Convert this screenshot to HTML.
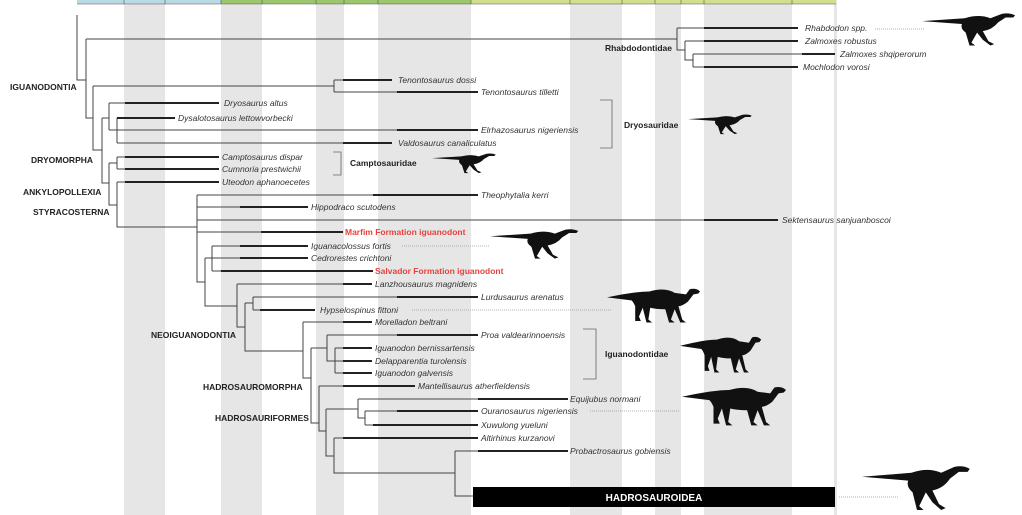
<!DOCTYPE html>
<html><head><meta charset="utf-8"><style>
html,body{margin:0;padding:0;background:#fff;}
svg{display:block;}
.sp{font-family:"Liberation Sans",sans-serif;font-style:italic;font-size:8.5px;fill:#333;}
.cl{font-family:"Liberation Sans",sans-serif;font-weight:bold;font-size:8.5px;fill:#222;}
.rd{font-family:"Liberation Sans",sans-serif;font-weight:bold;font-size:8.5px;fill:#e8413c;}
</style></head><body>
<svg width="1022" height="515" viewBox="0 0 1022 515" xmlns="http://www.w3.org/2000/svg">
<defs>
<path id="dino" d="M0,14 L45,10 Q60,4 72,10 L84,4 Q92,2 98,6 L96,9 L88,9 L80,16 Q74,26 64,28 L70,42 L76,46 L72,48 L64,40 L58,30 L52,44 L56,48 L50,48 L46,30 Q40,24 42,18 Z" fill="#111"/>
<path id="quad" d="M0,14 Q30,6 45,6 Q62,0 72,8 L84,10 L88,3 Q95,1 99,6 L97,9 L92,10 L86,20 Q80,26 76,26 L80,44 L84,48 L78,48 L72,30 L68,44 L72,48 L66,48 L62,30 Q52,30 46,28 L44,44 L48,48 L42,48 L38,28 L34,40 L36,46 L30,46 L30,26 Q28,20 26,18 Z" fill="#111"/>
</defs>
<!-- gray bands -->
<g fill="#e6e6e6">
<rect x="124" y="0" width="41" height="515"/>
<rect x="221" y="0" width="41" height="515"/>
<rect x="316" y="0" width="28" height="515"/>
<rect x="378" y="0" width="93" height="515"/>
<rect x="570" y="0" width="52" height="515"/>
<rect x="655" y="0" width="26" height="515"/>
<rect x="704" y="0" width="88" height="515"/>
<rect x="834" y="0" width="3" height="515"/>
</g>
<!-- top strip -->
<rect x="77" y="0" width="144" height="4" fill="#b9d9e3"/>
<rect x="221" y="0" width="250" height="4" fill="#9cc56c"/>
<rect x="471" y="0" width="365" height="4" fill="#d3df8c"/>
<g stroke="#555" stroke-width="0.6">
<line x1="77" y1="4" x2="836" y2="4"/>
<line x1="124" y1="0" x2="124" y2="4"/><line x1="165" y1="0" x2="165" y2="4"/><line x1="221" y1="0" x2="221" y2="4"/><line x1="262" y1="0" x2="262" y2="4"/><line x1="316" y1="0" x2="316" y2="4"/><line x1="344" y1="0" x2="344" y2="4"/><line x1="378" y1="0" x2="378" y2="4"/><line x1="471" y1="0" x2="471" y2="4"/><line x1="570" y1="0" x2="570" y2="4"/><line x1="622" y1="0" x2="622" y2="4"/><line x1="655" y1="0" x2="655" y2="4"/><line x1="681" y1="0" x2="681" y2="4"/><line x1="704" y1="0" x2="704" y2="4"/><line x1="792" y1="0" x2="792" y2="4"/>
</g>
<!-- tree thin lines -->
<g stroke="#444" stroke-width="1" fill="none">
<path d="M77,15 V80 H86 M86,39 V118 H93 M86,39 H677 M677,28 V50 H685 M677,28 H798 M685,41 V60 H693 M685,41 H798 M693,54 V67 M693,54 H835 M693,67 H798"/>
<path d="M93,86 V150 H102 M93,86 H334 M334,80 V92 M334,80 H392 M334,92 H478"/>
<path d="M102,118 V183 H109 M102,118 H109 M109,103 V130 M109,103 H219 M109,130 H478 M117,118 V143 M117,118 H175 M117,143 H392"/>
<path d="M109,163 V205 H117 M109,163 H117 M117,157 V169 M117,157 H219 M117,169 H219 M117,182 V227 H197 M117,182 H219"/>
<path d="M197,195 V282 H205 M197,195 H478 M197,207 H308 M197,220 H778 M197,232 H343"/>
<path d="M205,258 V306 H237 M205,258 H308 M212,246 V271 M212,246 H308 M212,271 H373"/>
<path d="M237,284 V327 H245 M237,284 H372 M245,303 V351 H303 M245,303 H253 M253,297 V310 M253,297 H478 M253,310 H315"/>
<path d="M303,322 V378 H311 M303,322 H372 M311,348 V423 H319 M311,348 H327 M327,335 V361 H335 M327,335 H478 M335,348 V373 M335,348 H372 M335,361 H372 M335,373 H372"/>
<path d="M319,386 V431 H326 M319,386 H415 M326,409 V456 H334 M326,409 H358 M358,399 V418 H365 M358,399 H568 M365,411 V425 M365,411 H478 M365,425 H478"/>
<path d="M334,438 V473 H455 M334,438 H478 M455,451 V496 H473 M455,451 H568"/>
</g>
<!-- thick segments -->
<g stroke="#222" stroke-width="2" fill="none">
<path d="M704,28 H798 M704,41 H798 M802,54 H835 M704,67 H798"/>
<path d="M343,80 H392 M397,92 H478 M125,103 H219 M117,118 H175 M397,130 H478 M343,143 H392"/>
<path d="M125,157 H219 M125,169 H219 M125,182 H219"/>
<path d="M373,195 H478 M240,207 H308 M704,220 H778 M261,232 H343"/>
<path d="M240,246 H308 M240,258 H308 M221,271 H373 M343,284 H372 M397,297 H478 M260,310 H315"/>
<path d="M343,322 H372 M397,335 H478 M343,348 H372 M343,361 H372 M343,373 H372 M343,386 H415"/>
<path d="M478,399 H568 M397,411 H478 M373,425 H478 M343,438 H478 M478,451 H568"/>
</g>
<!-- dotted -->
<g stroke="#999" stroke-width="0.8" stroke-dasharray="1,1">
<line x1="875" y1="29" x2="925" y2="29"/>
<line x1="402" y1="246" x2="490" y2="246"/>
<line x1="412" y1="310" x2="612" y2="310"/>
<line x1="590" y1="411" x2="680" y2="411"/>
<line x1="839" y1="497" x2="898" y2="497"/>
</g>
<!-- brackets -->
<g stroke="#666" stroke-width="0.8" fill="none">
<path d="M600,100 H612 V148 H600"/>
<path d="M333,152 H341 V175 H333"/>
<path d="M583,329 H596 V379 H583"/>
</g>
<!-- hadrosauroidea bar -->
<rect x="473" y="487" width="362" height="20" fill="#000"/>
<text x="654" y="501" text-anchor="middle" style="font-family:'Liberation Sans',sans-serif;font-weight:bold;font-size:10px;fill:#fff">HADROSAUROIDEA</text>
<!-- species labels -->
<g class="sp">
<text x="805" y="31">Rhabdodon spp.</text>
<text x="805" y="44">Zalmoxes robustus</text>
<text x="840" y="57">Zalmoxes shqiperorum</text>
<text x="803" y="70">Mochlodon vorosi</text>
<text x="398" y="83">Tenontosaurus dossi</text>
<text x="481" y="95">Tenontosaurus tilletti</text>
<text x="224" y="106">Dryosaurus altus</text>
<text x="178" y="121">Dysalotosaurus lettowvorbecki</text>
<text x="481" y="133">Elrhazosaurus nigeriensis</text>
<text x="398" y="146">Valdosaurus canaliculatus</text>
<text x="222" y="160">Camptosaurus dispar</text>
<text x="222" y="172">Cumnoria prestwichii</text>
<text x="222" y="185">Uteodon aphanoecetes</text>
<text x="481" y="198">Theophytalia kerri</text>
<text x="311" y="210">Hippodraco scutodens</text>
<text x="782" y="223">Sektensaurus sanjuanboscoi</text>
<text x="311" y="249">Iguanacolossus fortis</text>
<text x="311" y="261">Cedrorestes crichtoni</text>
<text x="375" y="287">Lanzhousaurus magnidens</text>
<text x="481" y="300">Lurdusaurus arenatus</text>
<text x="320" y="313">Hypselospinus fittoni</text>
<text x="375" y="325">Morelladon beltrani</text>
<text x="481" y="338">Proa valdearinnoensis</text>
<text x="375" y="351">Iguanodon bernissartensis</text>
<text x="375" y="364">Delapparentia turolensis</text>
<text x="375" y="376">Iguanodon galvensis</text>
<text x="418" y="389">Mantellisaurus atherfieldensis</text>
<text x="570" y="402">Equijubus normani</text>
<text x="481" y="414">Ouranosaurus nigeriensis</text>
<text x="481" y="428">Xuwulong yueluni</text>
<text x="481" y="441">Altirhinus kurzanovi</text>
<text x="570" y="454">Probactrosaurus gobiensis</text>
</g>
<text class="rd" x="345" y="235">Marfim Formation iguanodont</text>
<text class="rd" x="375" y="274">Salvador Formation iguanodont</text>
<!-- clade labels -->
<g class="cl">
<text x="10" y="90">IGUANODONTIA</text>
<text x="31" y="163">DRYOMORPHA</text>
<text x="23" y="195">ANKYLOPOLLEXIA</text>
<text x="33" y="215">STYRACOSTERNA</text>
<text x="151" y="338">NEOIGUANODONTIA</text>
<text x="203" y="390">HADROSAUROMORPHA</text>
<text x="215" y="421">HADROSAURIFORMES</text>
<text x="672" y="51" text-anchor="end">Rhabdodontidae</text>
<text x="624" y="128">Dryosauridae</text>
<text x="350" y="166">Camptosauridae</text>
<text x="605" y="357">Iguanodontidae</text>
</g>
<!-- silhouettes -->
<use href="#dino" transform="translate(922,11) scale(0.95,0.72)"/>
<use href="#dino" transform="translate(688,113) scale(0.65,0.44)"/>
<use href="#dino" transform="translate(432,152) scale(0.65,0.44)"/>
<use href="#dino" transform="translate(490,227) scale(0.9,0.66)"/>
<use href="#quad" transform="translate(607,287) scale(0.94,0.74)"/>
<use href="#quad" transform="translate(680,335) scale(0.82,0.78)"/>
<use href="#quad" transform="translate(682,385) scale(1.05,0.84)"/>
<use href="#dino" transform="translate(862,463) scale(1.1,0.98)"/>
</svg>
</body></html>
